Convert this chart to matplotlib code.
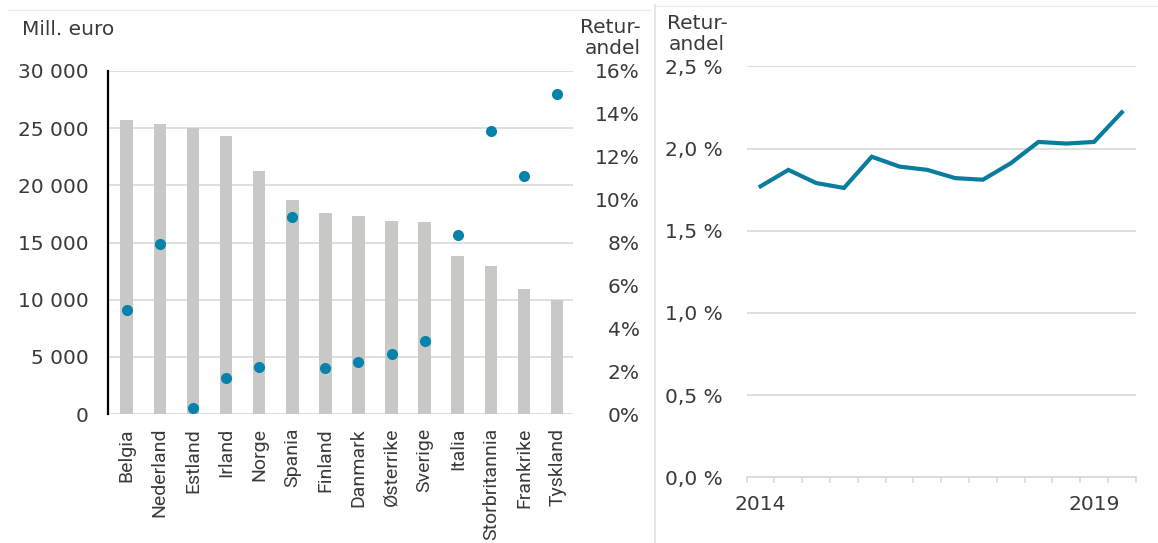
import matplotlib
matplotlib.use("Agg")
import matplotlib.pyplot as plt
from matplotlib.lines import Line2D
import numpy as np

# ---------------- data ----------------
countries = ["Belgia", "Nederland", "Estland", "Irland", "Norge", "Spania", "Finland",
             "Danmark", "Østerrike", "Sverige", "Italia", "Storbritannia", "Frankrike", "Tyskland"]
volume_mill_euro = [25700, 25400, 25000, 24350, 21250, 18700, 17550,
                    17300, 16850, 16750, 13800, 12950, 10900, 10000]
return_share_pct = [4.85, 7.95, 0.30, 1.70, 2.18, 9.17, 2.13,
                    2.44, 2.80, 3.40, 8.35, 13.2, 11.1, 14.93]

period_labels = ["2014", "", "", "", "", "", "", "", "", "", "", "", "2019", ""]
trend_pct = [1.77, 1.87, 1.79, 1.76, 1.95, 1.89, 1.87, 1.82, 1.81, 1.91, 2.04, 2.03, 2.04, 2.22]

left_yticks = [0, 5000, 10000, 15000, 20000, 25000, 30000]
left_y2ticks = [0, 2, 4, 6, 8, 10, 12, 14, 16]
right_yticks = [0.0, 0.5, 1.0, 1.5, 2.0, 2.5]

# ---------------- style ----------------
W, H = 1158, 543
fig = plt.figure(figsize=(W / 100, H / 100), dpi=100)
fig.patch.set_facecolor("white")

bar_col = "#c8c9c7"
dot_col = "#0583aa"
line_col = "#0a7c9e"
grid_col = "#d9d9d9"
txt_col = "#3a3a3a"
fH = ["DejaVu Sans"]          # horizontal text (wide look)
fV = ["Roboto", "DejaVu Sans"]  # rotated category labels
FS = 14.5

def fx(px):
    return px / W

def fy(py):
    return 1 - py / H

# ---------------- left panel ----------------
ax = fig.add_axes([fx(108), fy(414), fx(573) - fx(108), fy(71) - fy(414)])
x = np.arange(len(countries))
ax.bar(x, volume_mill_euro, width=0.38, color=bar_col, zorder=2)
ax.set_xlim(-0.565, 13.48)
ax.set_ylim(0, 30000)
ax.set_yticks(left_yticks)
ax.set_yticklabels([f"{v:,}".replace(",", " ") for v in left_yticks],
                   fontfamily=fH, fontsize=FS, color=txt_col)
ax.set_xticks(x)
ax.set_xticklabels(countries, rotation=90, fontfamily=fV, fontsize=14,
                   color=txt_col, va="top")
ax.tick_params(axis="y", length=0, pad=14)
ax.tick_params(axis="x", length=0, pad=10)
ax.grid(axis="y", color=grid_col, linewidth=1.2, zorder=0)
ax.set_axisbelow(True)
for s in ["top", "right", "bottom"]:
    ax.spines[s].set_visible(False)
ax.spines["left"].set_color("black")
ax.spines["left"].set_linewidth(1.6)

ax2 = ax.twinx()
ax2.plot(x, return_share_pct, linestyle="none", marker="o", markersize=8,
         color=dot_col, markeredgewidth=0, zorder=3)
ax2.set_ylim(0, 16)
ax2.set_yticks(left_y2ticks)
ax2.set_yticklabels([f"{v}%" for v in left_y2ticks], fontfamily=fH, fontsize=FS,
                    color=txt_col, ha="right")
ax2.tick_params(axis="y", length=0, pad=48)
for s in ax2.spines.values():
    s.set_visible(False)

fig.text(fx(22), fy(20), "Mill. euro", fontfamily=fH, fontsize=FS,
         color=txt_col, ha="left", va="top")
fig.text(fx(641), fy(18), "Retur-\nandel", fontfamily=fH, fontsize=FS,
         color=txt_col, ha="right", va="top", multialignment="right", linespacing=1.1)

# ---------------- right panel ----------------
axr = fig.add_axes([fx(746.7), fy(477.3), fx(1135.7) - fx(746.7), fy(66.3) - fy(477.3)])
xr = np.arange(len(trend_pct))
axr.plot(xr, trend_pct, color=line_col, linewidth=3.0, solid_joinstyle="miter", zorder=3)
axr.set_xlim(-0.5, 13.5)
axr.set_ylim(0, 2.5)
axr.set_yticks(right_yticks)
axr.set_yticklabels([f"{v:.1f} %".replace(".", ",") for v in right_yticks],
                    fontfamily=fH, fontsize=FS, color=txt_col)
axr.tick_params(axis="y", length=0, pad=17)
axr.set_xticks(xr)
axr.set_xticklabels(period_labels, fontfamily=fH, fontsize=FS, color=txt_col)
axr.tick_params(axis="x", which="major", length=0, pad=13)
axr.set_xticks(np.arange(-0.5, 14.0, 1.0), minor=True)
axr.tick_params(axis="x", which="minor", length=4, width=1.2, color=grid_col, direction="out")
axr.grid(axis="y", color=grid_col, linewidth=1.2, zorder=0)
axr.set_axisbelow(True)
for s in ["top", "right", "left"]:
    axr.spines[s].set_visible(False)
axr.spines["bottom"].set_color(grid_col)
axr.spines["bottom"].set_linewidth(1.2)

fig.text(fx(697), fy(14), "Retur-\nandel", fontfamily=fH, fontsize=FS, color=txt_col,
         ha="center", va="top", multialignment="center", linespacing=1.15)

# ---------------- frame lines ----------------
frame_col = "#ececec"
fig.add_artist(Line2D([fx(8), fx(650)], [fy(10), fy(10)], color=frame_col, linewidth=1))
fig.add_artist(Line2D([fx(655), fx(655)], [fy(5), fy(543)], color="#e0e0e0", linewidth=1.2))
fig.add_artist(Line2D([fx(656), fx(1158)], [fy(6), fy(6)], color=frame_col, linewidth=1))

fig.savefig("out.png", dpi=100, facecolor="white")
